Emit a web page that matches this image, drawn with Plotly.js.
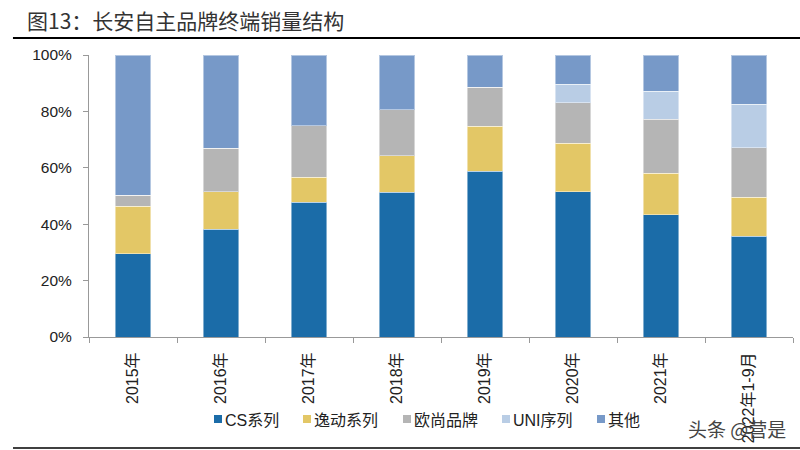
<!DOCTYPE html>
<html>
<head>
<meta charset="utf-8">
<script src="https://cdn.plot.ly/plotly-3.0.1.min.js"></script>
<style>html,body{margin:0;padding:0;background:#fff;}#chart{width:800px;height:450px;}</style>
</head>
<body>
<div id="chart"></div>
<script>
const categories = ["2015年","2016年","2017年","2018年","2019年","2020年","2021年","2022年1-9月"];
const seriesNames = ["CS系列","逸动系列","欧尚品牌","UNI序列","其他"];
const csSeries   = [29.5, 38.2, 47.7, 51.3, 58.8, 51.5, 43.4, 35.7];
const yidong     = [16.8, 13.3,  9.0, 13.0, 16.0, 17.2, 14.7, 13.9];
const oushang    = [ 3.9, 15.4, 18.2, 16.2, 13.7, 14.4, 19.2, 17.6];
const uni        = [ 0,    0,    0,    0,    0,    6.5,  9.8, 15.4];
const others     = [49.8, 33.1, 25.1, 19.5, 11.5, 10.4, 12.9, 17.4];
const yTickVals  = [0, 20, 40, 60, 80, 100];
const yTickText  = ["0%","20%","40%","60%","80%","100%"];

const colors = ["#1B6CA8", "#E3C766", "#B5B5B5", "#B9CDE5", "#7799C8"];
const values = [csSeries, yidong, oushang, uni, others];
const FONT = "Liberation Sans, Arial, Noto Sans CJK SC, sans-serif";

const traces = values.map((v, i) => ({
  type: "bar",
  name: seriesNames[i],
  x: categories,
  y: v,
  marker: {color: colors[i], line: {color: "rgba(255,255,255,0.45)", width: 1}},
  hoverinfo: "skip",
  showlegend: false
}));

// custom legend: small square key followed by text
const plotL = 89, plotW = 704, plotB = 337, plotH = 282;
const px = x => (x - plotL) / plotW;
const py = y => (plotB - y) / plotH;
const legendX = [214, 303, 403, 502, 597];
const legendShapes = seriesNames.map((n, i) => ({
  type: "rect", xref: "paper", yref: "paper",
  x0: px(legendX[i]), x1: px(legendX[i] + 8),
  y0: py(423), y1: py(415),
  fillcolor: colors[i], line: {width: 0}
}));
const legendAnn = seriesNames.map((n, i) => ({
  text: n,
  xref: "paper", yref: "paper",
  x: px(legendX[i] + 9), y: py(420),
  xanchor: "left", yanchor: "middle", showarrow: false,
  font: {family: FONT, size: 16, color: "#222"}
}));

const layout = {
  width: 800, height: 450,
  margin: {l: plotL, r: 7, t: 55, b: 113},
  barmode: "stack",
  bargap: 0.6,
  paper_bgcolor: "#fff", plot_bgcolor: "#fff",
  font: {family: FONT, size: 15, color: "#222"},
  title: {
    text: "图13：长安自主品牌终端销量结构",
    x: 27/800, xanchor: "left", xref: "container",
    y: 1 - 22/450, yanchor: "middle", yref: "container",
    font: {family: "Noto Sans CJK SC, sans-serif", size: 21, color: "#333"}
  },
  xaxis: {
    type: "category",
    tickangle: -90,
    showline: true, linecolor: "#999", linewidth: 1,
    ticks: "outside", ticklen: 5, tickcolor: "#999",
    tickson: "boundaries",
    ticklabelstandoff: 8,
    showgrid: false,
    tickfont: {family: FONT, size: 16, color: "#222"},
    automargin: false,
    fixedrange: true
  },
  yaxis: {
    range: [0, 100],
    tickvals: yTickVals, ticktext: yTickText,
    showline: true, linecolor: "#999", linewidth: 1,
    ticks: "outside", ticklen: 5, tickcolor: "#999",
    ticklabelstandoff: 8,
    showgrid: false, zeroline: false,
    tickfont: {family: FONT, size: 15.5, color: "#222"},
    automargin: false,
    fixedrange: true
  },
  showlegend: false,
  shapes: legendShapes.concat([
    {type: "line", xref: "paper", yref: "paper", x0: -0.108, x1: 1.01, y0: py(38), y1: py(38), line: {color: "#000", width: 2}},
    {type: "line", xref: "paper", yref: "paper", x0: -0.108, x1: 1.01, y0: py(448), y1: py(448), line: {color: "#000", width: 1.5}}
  ]),
  annotations: legendAnn.concat([
    {text: "头条 @营是", xref: "paper", yref: "paper", x: px(737), y: py(428), xanchor: "center", yanchor: "middle", showarrow: false,
     font: {family: "Noto Sans CJK SC, sans-serif", size: 19, color: "#444"}}
  ])
};

Plotly.newPlot("chart", traces, layout, {displayModeBar: false, staticPlot: true});
</script>
</body>
</html>
